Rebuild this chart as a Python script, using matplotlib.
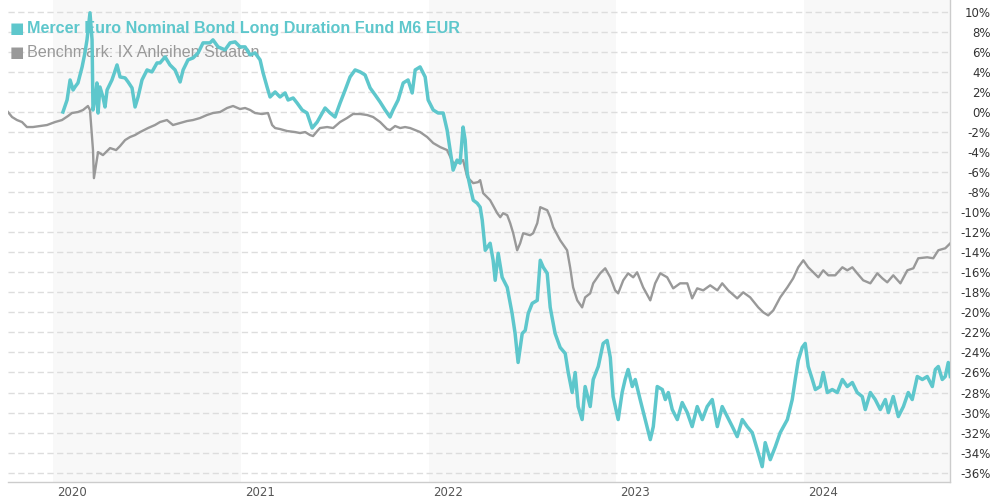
import matplotlib
matplotlib.use("Agg")
import matplotlib.pyplot as plt
from matplotlib.transforms import ScaledTranslation

# time in decimal years, values in %
bench_t = [2019.760, 2019.782, 2019.808, 2019.835, 2019.861, 2019.893, 2019.931, 2019.968,
           2020.011, 2020.048, 2020.080, 2020.101, 2020.133, 2020.160, 2020.186, 2020.197,
           2020.213, 2020.218, 2020.229, 2020.240, 2020.266, 2020.304, 2020.336, 2020.357,
           2020.384, 2020.410, 2020.437, 2020.464, 2020.506, 2020.543, 2020.570, 2020.607,
           2020.639, 2020.677, 2020.714, 2020.746, 2020.783, 2020.820, 2020.852, 2020.890,
           2020.927, 2020.959, 2020.996, 2021.023, 2021.050, 2021.076, 2021.113, 2021.145,
           2021.167, 2021.183, 2021.209, 2021.247, 2021.289, 2021.316, 2021.343, 2021.369,
           2021.385, 2021.412, 2021.422, 2021.460, 2021.492, 2021.529, 2021.566, 2021.598,
           2021.636, 2021.673, 2021.705, 2021.742, 2021.779, 2021.795, 2021.822, 2021.849,
           2021.875, 2021.902, 2021.929, 2021.955, 2021.993, 2022.025, 2022.062, 2022.099,
           2022.131, 2022.168, 2022.184, 2022.206, 2022.238, 2022.264, 2022.275, 2022.291,
           2022.328, 2022.366, 2022.382, 2022.397, 2022.419, 2022.435, 2022.451, 2022.472,
           2022.488, 2022.504, 2022.541, 2022.557, 2022.579, 2022.595, 2022.632, 2022.648,
           2022.664, 2022.701, 2022.738, 2022.754, 2022.770, 2022.792, 2022.818, 2022.834,
           2022.861, 2022.877, 2022.914, 2022.941, 2022.968, 2022.994, 2023.010, 2023.037,
           2023.063, 2023.090, 2023.111, 2023.143, 2023.181, 2023.207, 2023.234, 2023.271,
           2023.303, 2023.340, 2023.378, 2023.404, 2023.431, 2023.463, 2023.500, 2023.538,
           2023.564, 2023.596, 2023.644, 2023.676, 2023.713, 2023.756, 2023.783, 2023.809,
           2023.836, 2023.873, 2023.911, 2023.942, 2023.969, 2023.996, 2024.022, 2024.049,
           2024.076, 2024.102, 2024.129, 2024.166, 2024.204, 2024.230, 2024.257, 2024.283,
           2024.315, 2024.353, 2024.390, 2024.417, 2024.443, 2024.475, 2024.513, 2024.550,
           2024.582, 2024.608, 2024.656, 2024.688, 2024.715, 2024.752, 2024.779]
bench_v = [0.0, -0.5, -0.8, -1.0, -1.5, -1.5, -1.4, -1.3,
           -1.0, -0.8, -0.4, -0.1, 0.0, 0.2, 0.6, 0.2,
           -3.8, -6.6, -5.3, -4.0, -4.3, -3.6, -3.8, -3.4,
           -2.8, -2.5, -2.3, -2.0, -1.6, -1.3, -1.0, -0.8,
           -1.3, -1.1, -0.9, -0.8, -0.6, -0.3, -0.1, 0.0,
           0.4, 0.6, 0.3, 0.4, 0.2, -0.1, -0.2, -0.1,
           -1.3, -1.6, -1.7, -1.9, -2.0, -2.1, -2.0, -2.3,
           -2.4, -1.8, -1.6, -1.5, -1.6, -1.0, -0.6, -0.2,
           -0.2, -0.3, -0.5, -1.0, -1.7, -1.8, -1.4, -1.6,
           -1.5, -1.6, -1.8, -2.0, -2.5, -3.1, -3.5, -3.8,
           -5.1, -5.0, -4.8, -6.5, -7.1, -7.0, -6.8, -8.1,
           -8.8, -10.1, -10.5, -10.1, -10.3, -11.1, -12.1, -13.8,
           -13.1, -12.1, -12.3, -12.1, -11.1, -9.5, -9.8, -10.5,
           -11.5, -12.8, -13.8, -15.5, -17.5, -18.8, -19.5, -18.5,
           -18.1, -17.1, -16.1, -15.6, -16.5, -17.8, -18.1, -16.8,
           -16.1, -16.5, -16.0, -17.5, -18.8, -17.1, -16.1, -16.5,
           -17.6, -17.1, -17.1, -18.6, -17.6, -17.8, -17.3, -17.8,
           -17.1, -17.8, -18.6, -18.0, -18.5, -19.5, -20.0, -20.3,
           -19.8, -18.5, -17.5, -16.6, -15.5, -14.8, -15.5, -16.0,
           -16.5, -15.8, -16.3, -16.3, -15.5, -15.8, -15.5, -16.1,
           -16.8, -17.1, -16.1, -16.6, -17.0, -16.3, -17.1, -15.8,
           -15.6, -14.6, -14.5, -14.6, -13.8, -13.6, -13.1]

fund_t = [2020.053, 2020.075, 2020.091, 2020.107, 2020.117, 2020.133, 2020.155, 2020.170,
          2020.181, 2020.197, 2020.208, 2020.213, 2020.224, 2020.234, 2020.240, 2020.250,
          2020.266, 2020.277, 2020.288, 2020.314, 2020.341, 2020.357, 2020.384, 2020.400,
          2020.421, 2020.437, 2020.453, 2020.474, 2020.501, 2020.527, 2020.554, 2020.570,
          2020.597, 2020.623, 2020.650, 2020.677, 2020.693, 2020.719, 2020.746, 2020.773,
          2020.799, 2020.836, 2020.852, 2020.879, 2020.916, 2020.943, 2020.970, 2020.996,
          2021.023, 2021.050, 2021.076, 2021.103, 2021.119, 2021.140, 2021.156, 2021.183,
          2021.209, 2021.236, 2021.252, 2021.279, 2021.300, 2021.327, 2021.353, 2021.380,
          2021.407, 2021.422, 2021.449, 2021.476, 2021.502, 2021.529, 2021.556, 2021.582,
          2021.609, 2021.636, 2021.662, 2021.689, 2021.716, 2021.742, 2021.769, 2021.795,
          2021.811, 2021.838, 2021.865, 2021.891, 2021.913, 2021.929, 2021.955, 2021.982,
          2021.998, 2022.025, 2022.051, 2022.078, 2022.099, 2022.115, 2022.131, 2022.152,
          2022.168, 2022.184, 2022.195, 2022.206, 2022.222, 2022.238, 2022.259, 2022.275,
          2022.286, 2022.302, 2022.328, 2022.344, 2022.355, 2022.371, 2022.392, 2022.419,
          2022.445, 2022.461, 2022.477, 2022.499, 2022.515, 2022.531, 2022.552, 2022.579,
          2022.595, 2022.611, 2022.632, 2022.648, 2022.674, 2022.701, 2022.728, 2022.744,
          2022.765, 2022.781, 2022.797, 2022.818, 2022.834, 2022.861, 2022.877, 2022.904,
          2022.930, 2022.951, 2022.968, 2022.983, 2023.010, 2023.031, 2023.047, 2023.063,
          2023.085, 2023.101, 2023.127, 2023.154, 2023.181, 2023.197, 2023.218, 2023.245,
          2023.261, 2023.277, 2023.298, 2023.325, 2023.351, 2023.378, 2023.404, 2023.431,
          2023.458, 2023.484, 2023.511, 2023.538, 2023.564, 2023.591, 2023.618, 2023.644,
          2023.671, 2023.697, 2023.724, 2023.751, 2023.777, 2023.793, 2023.820, 2023.847,
          2023.873, 2023.911, 2023.937, 2023.953, 2023.969, 2023.990, 2024.006, 2024.022,
          2024.044, 2024.060, 2024.086, 2024.102, 2024.124, 2024.150, 2024.177, 2024.204,
          2024.230, 2024.257, 2024.283, 2024.310, 2024.326, 2024.353, 2024.379, 2024.406,
          2024.433, 2024.449, 2024.475, 2024.502, 2024.529, 2024.555, 2024.576, 2024.603,
          2024.630, 2024.656, 2024.683, 2024.699, 2024.715, 2024.736, 2024.752, 2024.768,
          2024.779]
fund_v = [0.0, 1.2, 3.2, 2.2, 2.5, 2.9, 4.5, 5.9,
          7.2, 9.9, 7.2, 0.2, 1.2, 2.9, -0.1, 2.5,
          1.5, 0.5, 2.2, 3.2, 4.7, 3.5, 3.4, 3.0,
          2.4, 0.5, 1.5, 3.2, 4.2, 4.0, 4.9, 4.9,
          5.5, 4.7, 4.2, 3.0, 4.2, 5.2, 5.4, 5.9,
          6.9, 6.9, 7.2, 6.5, 6.2, 6.9, 7.0, 6.5,
          6.5, 5.7, 5.9, 5.2, 3.9, 2.5, 1.5, 2.0,
          1.5, 1.9, 1.2, 1.4, 0.9, 0.2, -0.1, -1.6,
          -1.0, -0.5, 0.4, -0.1, -0.5, 0.9, 2.2, 3.5,
          4.2, 4.0, 3.7, 2.4, 1.7, 1.0, 0.2, -0.5,
          0.2, 1.2, 2.9, 3.2, 1.9, 4.2, 4.5, 3.5,
          1.2, 0.2, -0.1, -0.1, -1.8, -3.8, -5.8, -4.8,
          -5.1, -1.5, -2.8, -6.1, -7.5, -8.8, -9.1, -9.5,
          -10.8, -13.8, -13.1, -14.8, -16.8, -14.1, -16.5, -17.5,
          -20.1, -22.1, -25.0, -22.1, -21.8, -20.1, -19.1, -18.8,
          -14.8, -15.5, -16.1, -19.5, -22.1, -23.5, -24.1, -26.0,
          -28.0, -26.0, -29.4, -30.7, -27.4, -29.4, -26.7, -25.4,
          -23.1, -22.8, -24.5, -28.4, -30.7, -28.0, -26.7, -25.7,
          -27.4, -26.7, -28.7, -30.7, -32.7, -31.4, -27.4, -27.7,
          -28.7, -28.0, -29.7, -30.7, -29.0, -30.0, -31.4, -29.4,
          -30.7, -29.4, -28.7, -31.4, -29.4, -30.4, -31.4, -32.4,
          -30.7, -31.4, -32.0, -33.7, -35.4, -33.0, -34.7, -33.4,
          -32.0, -30.7, -28.7, -26.7, -24.8, -23.5, -23.1, -25.4,
          -26.7, -27.7, -27.4, -26.0, -28.0, -27.7, -28.0, -26.7,
          -27.4, -27.0, -28.0, -28.4, -29.7, -28.0, -28.7, -29.7,
          -28.7, -30.0, -28.4, -30.4, -29.4, -28.0, -28.7, -26.4,
          -26.7, -26.4, -27.4, -25.7, -25.4, -26.7, -26.4, -25.0,
          -26.4]

years = [2020, 2021, 2022, 2023, 2024]
shaded_years = [2020, 2022, 2024]
y_ticks = list(range(-36, 12, 2))
fund_name = "Mercer Euro Nominal Bond Long Duration Fund M6 EUR"
bench_name = "Benchmark: IX Anleihen Staaten"

teal = "#5ec7cc"
gray = "#999999"

fig = plt.figure(figsize=(9.92, 5.0), dpi=100)
ax = fig.add_axes([0.008, 0.036, 0.950, 0.964])

x_min, x_max = 2019.760, 2024.779
ax.set_xlim(x_min, x_max)
ax.set_ylim(-36.93, 11.18)

# alternating year bands
for yr in shaded_years:
    ax.axvspan(yr, min(yr + 1, x_max), color="#f8f8f8", zorder=0, lw=0)

for v in y_ticks:
    ax.axhline(v, color="#dddddd", lw=1.0, linestyle=(0, (4.5, 2.5)), zorder=1)

ax.plot(bench_t, bench_v, color=gray, lw=1.7, zorder=3)
ax.plot(fund_t, fund_v, color=teal, lw=2.5, zorder=4)

# legend as text on top of the plot
ax.text(0.0095, 0.940, "\u25a0", transform=ax.transAxes, color=teal, fontsize=11,
        va="center", ha="center", family="DejaVu Sans", zorder=2)
ax.text(0.020, 0.940, fund_name, transform=ax.transAxes, color=teal, fontsize=11.6,
        fontweight="bold", va="center", ha="left", family="Liberation Sans", zorder=2)
ax.text(0.0095, 0.892, "\u25a0", transform=ax.transAxes, color=gray, fontsize=11,
        va="center", ha="center", family="DejaVu Sans", zorder=2)
ax.text(0.020, 0.892, bench_name, transform=ax.transAxes, color=gray, fontsize=11.6,
        va="center", ha="left", family="Liberation Sans", zorder=2)

for s in ["left", "top"]:
    ax.spines[s].set_visible(False)
for s in ["right", "bottom"]:
    ax.spines[s].set_color("#cccccc")
    ax.spines[s].set_linewidth(1.0)

ax.yaxis.tick_right()
ax.set_yticks(y_ticks)
ax.set_yticklabels([f"{v}%" for v in y_ticks])
ax.tick_params(axis="y", length=0, pad=29, labelsize=8.5, labelcolor="#333333")
for lab in ax.get_yticklabels():
    lab.set_ha("right")

ax.set_xticks(years)
ax.set_xticklabels([str(y) for y in years])
ax.tick_params(axis="x", length=0, pad=3, labelsize=8.5, labelcolor="#555555")
shift = ScaledTranslation(3 / 72, 0, fig.dpi_scale_trans)
for lab in ax.get_xticklabels():
    lab.set_ha("left")
    lab.set_transform(lab.get_transform() + shift)

fig.savefig("out.png", dpi=100, facecolor="white")
